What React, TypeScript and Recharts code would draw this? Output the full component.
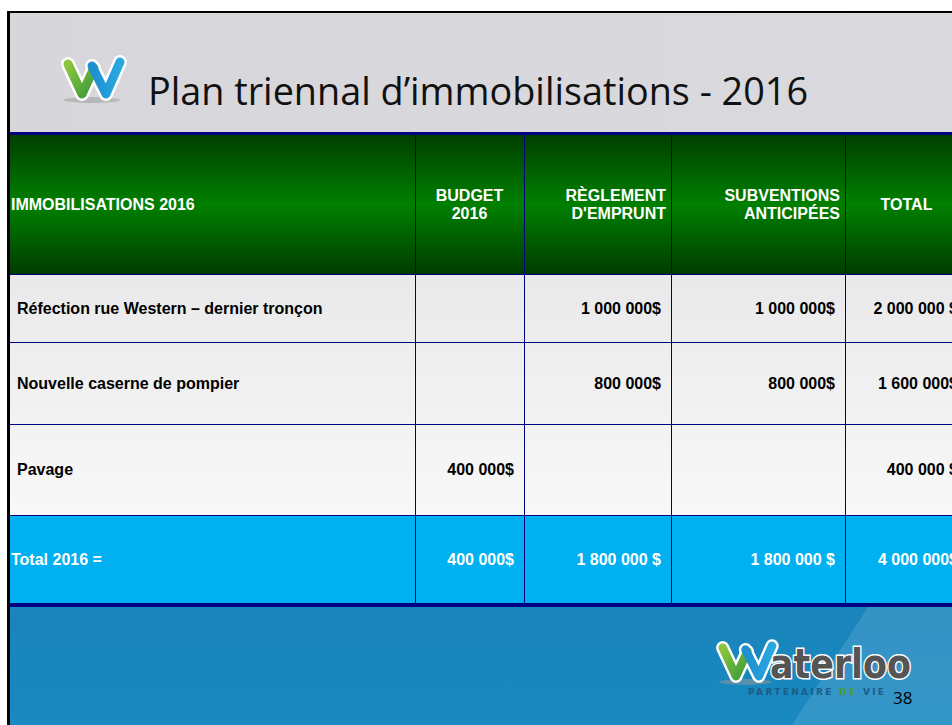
import { Layer, Rectangle, Surface, Text } from "recharts";

// slide content
const title = "Plan triennal d’immobilisations - 2016";
const headerLabels = [
  ["IMMOBILISATIONS 2016"],
  ["BUDGET", "2016"],
  ["RÈGLEMENT", "D'EMPRUNT"],
  ["SUBVENTIONS", "ANTICIPÉES"],
  ["TOTAL"],
];
const projects = [
  "Réfection rue Western – dernier tronçon",
  "Nouvelle caserne de pompier",
  "Pavage",
];
const budget2016 = ["", "", "400 000$"];
const reglementEmprunt = ["1 000 000$", "800 000$", ""];
const subventions = ["1 000 000$", "800 000$", ""];
const totals = ["2 000 000 $", "1 600 000$", "400 000 $"];
const totalLabel = "Total 2016 =";
const totalRow = ["400 000$", "1 800 000 $", "1 800 000 $", "4 000 000$"];
const pageNumber = "38";

// layout (pixels)
const W = 952;
const H = 725;
const COLS = [10, 415, 524, 671, 845, 968];
const ROWS = [135, 274, 342, 424, 515, 603];
const headerAlign = ["start", "middle", "end", "end", "middle"] as const;
const NAVY = "#000080";
const FONT = "'Liberation Sans', Arial, sans-serif";

function headerX(i: number) {
  const l = COLS[i];
  const r = COLS[i + 1];
  if (headerAlign[i] === "start") return l + 1;
  if (headerAlign[i] === "end") return r - 5;
  return (l + r) / 2;
}

function LogoW({ x, y, s }: { x: number; y: number; s: number }) {
  return (
    <g transform={`translate(${x},${y}) scale(${s})`}>
      <ellipse cx={30} cy={42} rx={28} ry={3} fill="#9a9a9a" opacity={0.5} />
      <path d="M6 6 L20 36 L32 10" fill="none" stroke="#fff" strokeWidth={14} strokeLinecap="round" strokeLinejoin="round" />
      <path d="M30 8 L44 36 L58 4" fill="none" stroke="#fff" strokeWidth={14} strokeLinecap="round" strokeLinejoin="round" />
      <path d="M6 6 L20 36 L32 10" fill="none" stroke="url(#wGreen)" strokeWidth={9} strokeLinecap="round" strokeLinejoin="round" />
      <path d="M30 8 L44 36 L58 4" fill="none" stroke="url(#wBlue)" strokeWidth={9} strokeLinecap="round" strokeLinejoin="round" />
    </g>
  );
}

export default function App() {
  const bodyRows = projects.map((p, i) => [p, budget2016[i], reglementEmprunt[i], subventions[i], totals[i]]);
  const headerMid = (ROWS[0] + ROWS[1]) / 2;

  return (
    <div style={{ position: "absolute", left: 0, top: 0, width: W, height: H, background: "#fff" }}>
      <Surface width={W} height={H} viewBox={{ x: 0, y: 0, width: W, height: H }}>
        <defs>
          <linearGradient id="titleBg" x1="0" y1="0" x2="1" y2="0">
            <stop offset="0" stopColor="#d6d6db" />
            <stop offset="1" stopColor="#d9d9de" />
          </linearGradient>
          <linearGradient id="headBg" x1="0" y1="0" x2="0" y2="1">
            <stop offset="0" stopColor="#003f00" />
            <stop offset="0.5" stopColor="#008000" />
            <stop offset="1" stopColor="#003c00" />
          </linearGradient>
          <linearGradient id="bodyBg" x1="0" y1="0" x2="0" y2="1">
            <stop offset="0" stopColor="#e9e9eb" />
            <stop offset="1" stopColor="#f8f8f8" />
          </linearGradient>
          <linearGradient id="footBg" x1="0" y1="0" x2="0" y2="1">
            <stop offset="0" stopColor="#1a84bc" />
            <stop offset="1" stopColor="#11a3d8" />
          </linearGradient>
          <linearGradient id="wGreen" x1="0" y1="0" x2="1" y2="1">
            <stop offset="0" stopColor="#8cc63f" />
            <stop offset="1" stopColor="#3a9a3a" />
          </linearGradient>
          <linearGradient id="wBlue" x1="0" y1="0" x2="1" y2="0">
            <stop offset="0" stopColor="#1e8fd0" />
            <stop offset="1" stopColor="#2aa8e0" />
          </linearGradient>
        </defs>

        {/* slide frame and title band */}
        <Rectangle x={8} y={12} width={W} height={H} fill="url(#titleBg)" />
        <LogoW x={62} y={58} s={1} />
        <text
          x={148}
          y={105}
          fontFamily="'Open Sans', sans-serif"
          fontSize={38}
          fill="#111"
          textLength={660}
          lengthAdjust="spacingAndGlyphs"
        >
          {title}
        </text>

        {/* table */}
        <Layer>
          <Rectangle x={COLS[0]} y={ROWS[0]} width={W} height={ROWS[1] - ROWS[0]} fill="url(#headBg)" />
          <Rectangle x={COLS[0]} y={ROWS[1]} width={W} height={ROWS[4] - ROWS[1]} fill="url(#bodyBg)" />
          <Rectangle x={COLS[0]} y={ROWS[4]} width={W} height={ROWS[5] - ROWS[4]} fill="#00b0f0" />

          {headerLabels.map((lines, ci) =>
            lines.map((line, li) => (
              <Text
                key={`h${ci}${li}`}
                x={headerX(ci)}
                y={headerMid + (li - (lines.length - 1) / 2) * 18}
                textAnchor={headerAlign[ci]}
                verticalAnchor="middle"
                fontFamily={FONT}
                fontWeight="bold"
                fontSize={16}
                fill="#fff"
              >
                {line}
              </Text>
            ))
          )}

          {bodyRows.map((cells, ri) =>
            cells.map((c, ci) =>
              c ? (
                <Text
                  key={`b${ri}${ci}`}
                  x={ci === 0 ? 17 : COLS[ci + 1] - 10}
                  y={(ROWS[ri + 1] + ROWS[ri + 2]) / 2}
                  textAnchor={ci === 0 ? "start" : "end"}
                  verticalAnchor="middle"
                  fontFamily={FONT}
                  fontWeight="bold"
                  fontSize={16}
                  fill="#000"
                >
                  {c}
                </Text>
              ) : null
            )
          )}

          {[totalLabel, ...totalRow].map((c, ci) => (
            <Text
              key={`t${ci}`}
              x={ci === 0 ? 11 : COLS[ci + 1] - 10}
              y={(ROWS[4] + ROWS[5]) / 2}
              textAnchor={ci === 0 ? "start" : "end"}
              verticalAnchor="middle"
              fontFamily={FONT}
              fontWeight="bold"
              fontSize={16}
              fill="#fff"
            >
              {c}
            </Text>
          ))}

          {/* grid lines */}
          {ROWS.slice(1, 5).map((y) => (
            <line key={`r${y}`} x1={COLS[0]} x2={W} y1={y + 0.5} y2={y + 0.5} stroke={NAVY} strokeWidth={1} />
          ))}
          {COLS.slice(1, 5).map((x) => (
            <line key={`c${x}`} x1={x + 0.5} x2={x + 0.5} y1={ROWS[0]} y2={ROWS[5]} stroke={NAVY} strokeWidth={1} />
          ))}
          <Rectangle x={COLS[0]} y={ROWS[0] - 3} width={W} height={3} fill={NAVY} />
          <Rectangle x={COLS[0]} y={ROWS[5]} width={W} height={4} fill={NAVY} />
        </Layer>

        {/* footer */}
        <Rectangle x={COLS[0]} y={ROWS[5] + 4} width={W} height={H} fill="url(#footBg)" />
        <polygon points={`868,${ROWS[5] + 4} ${W},${ROWS[5] + 4} ${W},${H} 792,${H}`} fill="#fff" opacity={0.12} />

        <LogoW x={717} y={642} s={0.95} />
        <text
          x={770}
          y={678}
          fontFamily="'DejaVu Sans', sans-serif"
          fontWeight="bold"
          fontSize={40}
          fill="#555"
          stroke="#fff"
          strokeWidth={3}
          paintOrder="stroke"
          textLength={141}
          lengthAdjust="spacingAndGlyphs"
        >
          aterloo
        </text>
        <text
          x={748}
          y={695}
          fontFamily="'DejaVu Sans', sans-serif"
          fontWeight="bold"
          fontSize={9}
          fill="#1d5c86"
          textLength={136}
          lengthAdjust="spacing"
        >
          PARTENAIRE <tspan fill="#4a9a3a">DE</tspan> VIE
        </text>
        <text x={893} y={704} fontFamily="'Open Sans', sans-serif" fontSize={17} fill="#000">
          {pageNumber}
        </text>

        {/* black slide border */}
        <Rectangle x={7} y={11} width={3} height={H} fill="#000" />
        <Rectangle x={7} y={11} width={W} height={2} fill="#000" />
      </Surface>
    </div>
  );
}
